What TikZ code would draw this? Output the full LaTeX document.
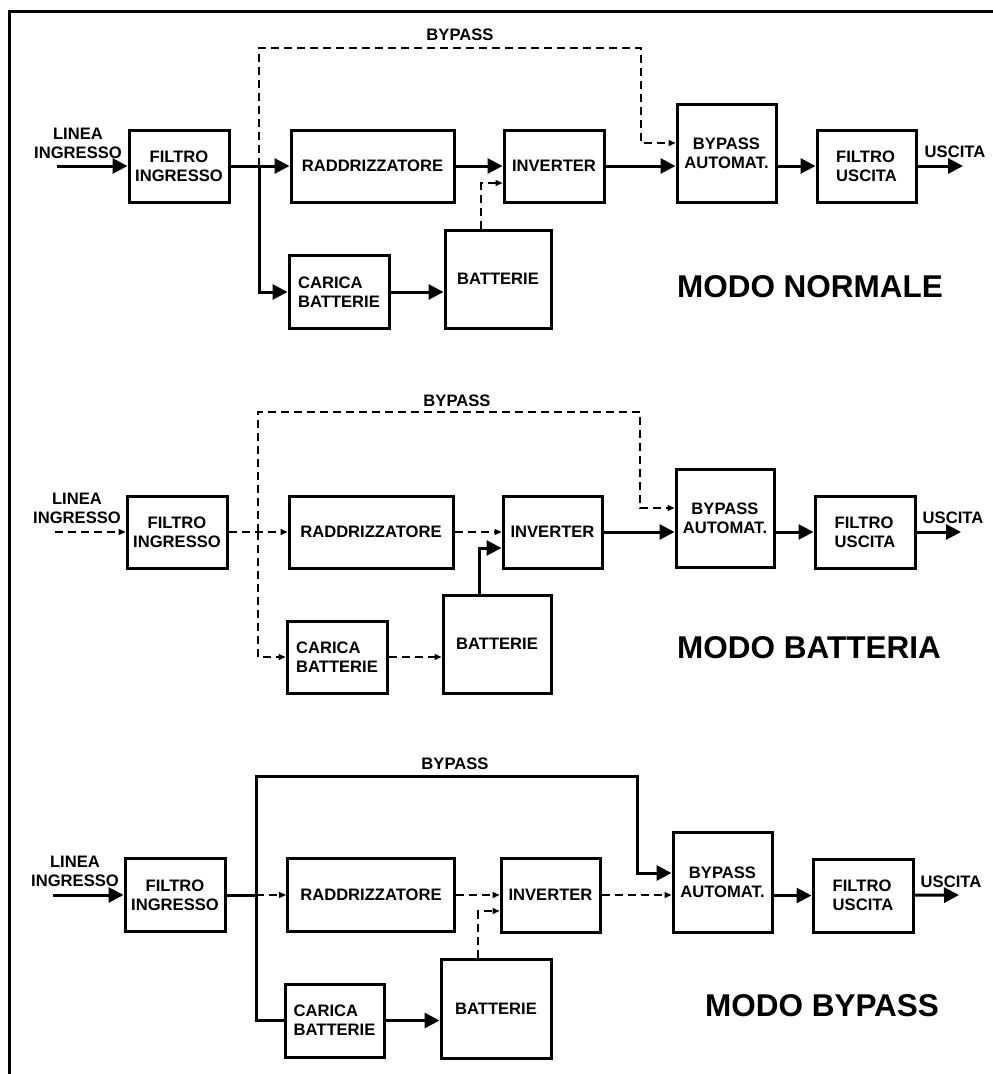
\documentclass[tikz,border=0pt]{standalone}
\usepackage{fontspec}
\setmainfont{Liberation Sans}
\usetikzlibrary{arrows.meta}
\newcommand\lblfont{\fontsize{16.6}{19}\selectfont\bfseries}
\newcommand\ttlfont{\fontsize{31.5}{36}\selectfont\bfseries}
\begin{document}
\begin{tikzpicture}[x=1pt,y=-1pt,
  blk/.style={draw, line width=3pt, rectangle, inner sep=0pt, align=center, font=\lblfont},
  blkl/.style={blk, align=left},
  solidc/.style={line width=3pt},
  bigarr/.style={solidc, -{Triangle[length=15pt,width=15pt]}},
  dashc/.style={line width=1.4pt, dash pattern=on 8pt off 5pt},
  smallarr/.style={dashc, -{Triangle[length=7pt,width=6pt]}},
  txt/.style={font=\lblfont, align=center, inner sep=0pt},
  ttl/.style={font=\ttlfont, inner sep=0pt}]
\useasboundingbox (0,0) rectangle (993,1074);
\draw[line width=3pt] (9,1074) -- (9,11) -- (993,11);

% ---------------- Diagram 1: MODO NORMALE
\node[blk, minimum width=100pt, minimum height=72pt] (fi1) at (179,166) {FILTRO\\INGRESSO};
\node[blk, minimum width=163pt, minimum height=72pt] (ra1) at (372.5,166) {RADDRIZZATORE};
\node[blkl, minimum width=100pt, minimum height=73pt] (cb1) at (339,292) {CARICA\\BATTERIE};
\node[blk, minimum width=106pt, minimum height=98pt] (ba1) at (498,279) {BATTERIE};
\node[blk, minimum width=100pt, minimum height=72pt] (iv1) at (554,166) {INVERTER};
\node[blk, minimum width=99pt, minimum height=98pt] (by1) at (726.5,153) {BYPASS\\AUTOMAT.};
\node[blkl, minimum width=99pt, minimum height=72pt] (fu1) at (866.5,166) {FILTRO\\USCITA};
\node[txt] (li1) at (78,143) {LINEA\\INGRESSO};
\node[txt] (bl1) at (460,35) {BYPASS};
\node[txt] (us1) at (955,152) {USCITA};
\node[ttl] (mo1) at (810,287) {MODO NORMALE};
\coordinate (in1) at (57,166);
\coordinate (j1) at (259,166);
\coordinate (bt1) at (641,48);
\coordinate (out1) at (963,166);
\coordinate (bu1) at (481,183);
\draw[bigarr] (in1) -- (fi1);
\draw[bigarr] (fi1) -- (ra1);
\draw[bigarr] (j1) |- (cb1.west);
\draw[smallarr] (j1) -- (j1 |- bt1) -- (bt1) |- ([yshift=10pt]by1.west);
\draw[bigarr] (ra1) -- (iv1);
\draw[smallarr] (bu1 |- ba1.north) -- (bu1) -- (bu1 -| iv1.west);
\draw[bigarr] (iv1.east) -- (iv1.east -| by1.west);
\draw[bigarr] (by1.east |- fu1.west) -- (fu1.west);
\draw[bigarr] (fu1) -- (out1);
\draw[bigarr] (cb1.east) -- (cb1.east -| ba1.west);

% ---------------- Diagram 2: MODO BATTERIA
\node[blk, minimum width=100pt, minimum height=72pt] (fi2) at (177,532) {FILTRO\\INGRESSO};
\node[blk, minimum width=164pt, minimum height=72pt] (ra2) at (371,532) {RADDRIZZATORE};
\node[blkl, minimum width=100pt, minimum height=72pt] (cb2) at (337,657) {CARICA\\BATTERIE};
\node[blk, minimum width=108pt, minimum height=98pt] (ba2) at (497,644) {BATTERIE};
\node[blk, minimum width=99pt, minimum height=72pt] (iv2) at (552.5,532) {INVERTER};
\node[blk, minimum width=98pt, minimum height=98pt] (by2) at (725,518) {BYPASS\\AUTOMAT.};
\node[blkl, minimum width=100pt, minimum height=72pt] (fu2) at (865,532) {FILTRO\\USCITA};
\node[txt] (li2) at (77,508) {LINEA\\INGRESSO};
\node[txt] (bl2) at (457,401) {BYPASS};
\node[txt] (us2) at (953,518) {USCITA};
\node[ttl] (mo2) at (809,648) {MODO BATTERIA};
\coordinate (in2) at (55,532);
\coordinate (j2) at (258,532);
\coordinate (bt2) at (640,412);
\coordinate (out2) at (961,532);
\coordinate (bu2) at (479,548);
\draw[smallarr] (in2) -- (fi2);
\draw[smallarr] (fi2) -- (ra2);
\draw[smallarr] (j2) -- (j2 |- bt2) -- (bt2) |- ([yshift=10pt]by2.west);
\draw[smallarr] (j2) |- (cb2.west);
\draw[smallarr] (ra2) -- (iv2);
\draw[smallarr] (cb2.east) -- (cb2.east -| ba2.west);
\draw[bigarr] (bu2 |- ba2.north) -- (bu2) -- (bu2 -| iv2.west);
\draw[bigarr] (iv2.east) -- (iv2.east -| by2.west);
\draw[bigarr] (by2.east |- fu2.west) -- (fu2.west);
\draw[bigarr] (fu2) -- (out2);

% ---------------- Diagram 3: MODO BYPASS
\node[blk, minimum width=100pt, minimum height=73pt] (fi3) at (175,895) {FILTRO\\INGRESSO};
\node[blk, minimum width=167pt, minimum height=73pt] (ra3) at (371,895) {RADDRIZZATORE};
\node[blkl, minimum width=99pt, minimum height=73pt] (cb3) at (334.5,1020.5) {CARICA\\BATTERIE};
\node[blk, minimum width=110pt, minimum height=99pt] (ba3) at (496,1008.5) {BATTERIE};
\node[blk, minimum width=99pt, minimum height=74pt] (iv3) at (550.5,895) {INVERTER};
\node[blk, minimum width=99pt, minimum height=100pt] (by3) at (722.5,882) {BYPASS\\AUTOMAT.};
\node[blkl, minimum width=100pt, minimum height=73pt] (fu3) at (863,895.5) {FILTRO\\USCITA};
\node[txt] (li3) at (75,871) {LINEA\\INGRESSO};
\node[txt] (bl3) at (455,764) {BYPASS};
\node[txt] (us3) at (951,882) {USCITA};
\node[ttl] (mo3) at (822,1006) {MODO BYPASS};
\coordinate (in3) at (53,895);
\coordinate (j3) at (256,895);
\coordinate (bt3) at (637,776);
\coordinate (out3) at (959,895);
\coordinate (bu3) at (478,911);
\draw[bigarr] (in3) -- (fi3);
\draw[solidc] (fi3) -- (j3);
\draw[smallarr] (j3) -- (ra3);
\draw[bigarr] (j3) -- (j3 |- bt3) -- (bt3) |- ([yshift=9pt]by3.west);
\draw[solidc] (j3) |- (cb3.west);
\draw[bigarr] (cb3.east) -- (cb3.east -| ba3.west);
\draw[smallarr] (bu3 |- ba3.north) -- (bu3) -- (bu3 -| iv3.west);
\draw[smallarr] (ra3) -- (iv3);
\draw[smallarr] (iv3.east) -- (iv3.east -| by3.west);
\draw[bigarr] (by3.east |- fu3.west) -- (fu3.west);
\draw[bigarr] (fu3) -- (out3);
\end{tikzpicture}
\end{document}
